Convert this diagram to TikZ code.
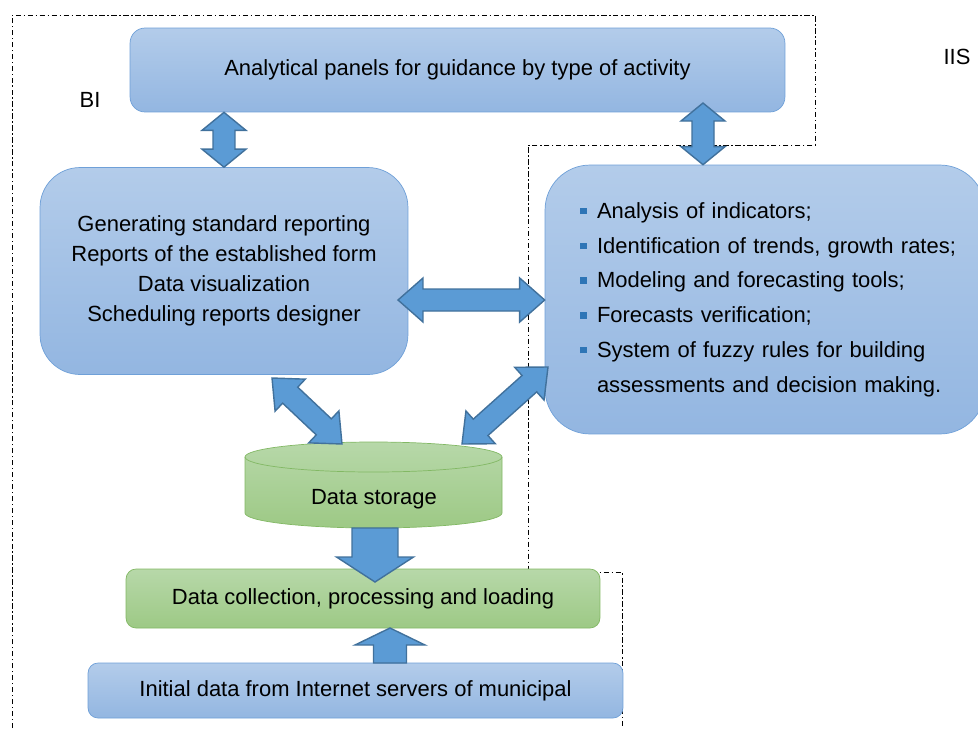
\documentclass[tikz,border=0pt]{standalone}
\usepackage{fontspec}
\setmainfont{Liberation Sans}
\usetikzlibrary{calc,positioning}

\definecolor{bluetop}{HTML}{B3CCEA}
\definecolor{bluebot}{HTML}{93B6E1}
\definecolor{blueline}{HTML}{6FA0D8}
\definecolor{greentop}{HTML}{B7D8A9}
\definecolor{greenbot}{HTML}{9DC985}
\definecolor{greenline}{HTML}{82B864}
\definecolor{arrowfill}{HTML}{5B9BD5}
\definecolor{arrowline}{HTML}{41719C}
\definecolor{bulletblue}{HTML}{2E75B6}

\newcommand{\bul}{\makebox[0.59cm][l]{\hspace{0.25cm}\textcolor{bulletblue}{\rule[0.08cm]{0.13cm}{0.13cm}}}}

% block arrows: tail/tip, half widths and head length
\newcommand{\dblarrow}[3][0.4cm]{%
  \path ($(#2)!#1!(#3)$) coordinate (p) ($(#3)!#1!(#2)$) coordinate (q);
  \filldraw[blockarrow] (#2) -- ($(p)!0.44cm!90:(#3)$) -- ($(p)!0.22cm!90:(#3)$)
    -- ($(q)!0.22cm!-90:(#2)$) -- ($(q)!0.44cm!-90:(#2)$) -- (#3)
    -- ($(q)!0.44cm!90:(#2)$) -- ($(q)!0.22cm!90:(#2)$)
    -- ($(p)!0.22cm!-90:(#3)$) -- ($(p)!0.44cm!-90:(#3)$) -- cycle;}
\newcommand{\sglarrow}[5]{%
  \path ($(#2)!#5!(#1)$) coordinate (q);
  \filldraw[blockarrow] ($(#1)!#3!90:(#2)$) -- ($(q)!#3!-90:(#1)$) -- ($(q)!#4!-90:(#1)$)
    -- (#2) -- ($(q)!#4!90:(#1)$) -- ($(q)!#3!90:(#1)$) -- ($(#1)!#3!-90:(#2)$) -- cycle;}

\begin{document}
\begin{tikzpicture}[x=0.02cm,y=-0.02cm,
  font=\fontsize{12.5}{15}\selectfont,
  bluebox/.style={draw=blueline,top color=bluetop,bottom color=bluebot,align=center},
  greenbox/.style={draw=greenline,top color=greentop,bottom color=greenbot,align=center},
  blockarrow/.style={fill=arrowfill,draw=arrowline,line width=0.8pt,line join=miter},
  zone/.style={line width=0.5pt,dash pattern=on 3pt off 1.5pt on 0.8pt off 1.5pt}]
\clip (0,0) rectangle (978,728);

% zone borders
\draw[zone] (12,728) -- (12,15) -- (815,15) -- (815,145) -- (528,145) -- (528,575);
\draw[zone] (520,572) -- (622,572) -- (622,728);
\node (bilabel) at (90,100) {BI};
\node (iislabel) at (957,57) {IIS};

% boxes
\node[bluebox,rounded corners=0.3cm,minimum width=13.1cm,minimum height=1.68cm] (top) at (457.5,70)
  {Analytical panels for guidance by type of activity};
\node[bluebox,rounded corners=0.8cm,minimum width=7.36cm,minimum height=4.14cm,
  font=\fontsize{12.5}{17}\selectfont] (bi) at (224,271)
  {Generating standard reporting\\Reports of the established form\\Data visualization\\Scheduling reports designer};
\node[bluebox,rounded corners=0.9cm,minimum width=8.8cm,minimum height=5.38cm,align=left,
  text width=7.9cm,font=\fontsize{12.5}{19.8}\selectfont] (iis) at (765,299.5)
  {\bul Analysis of indicators;\\
   \bul Identification of trends, growth rates;\\
   \bul Modeling and forecasting tools;\\
   \bul Forecasts verification;\\
   \bul System of fuzzy rules for building\\
   \hspace*{0.59cm}assessments and decision making.};

% data storage cylinder
\draw[draw=greenline,top color=greentop,bottom color=greenbot] (245,457) -- (245,513)
  arc[start angle=180,end angle=0,x radius=128.5,y radius=15] -- (502,457)
  arc[start angle=0,end angle=-180,x radius=128.5,y radius=15] -- cycle;
\draw[greenline] (245,457) arc[start angle=180,end angle=0,x radius=128.5,y radius=15];
\node (store) at (374,499) {Data storage};

\node[greenbox,rounded corners=0.2cm,minimum width=9.48cm,minimum height=1.18cm] (load) at (363,598.5)
  {Data collection, processing and loading};
\node[bluebox,rounded corners=0.2cm,minimum width=10.7cm,minimum height=1.1cm] (src) at (355.5,690.5)
  {Initial data from Internet servers of municipal};

% connectors
\coordinate (a1) at (top.south -| bi.north);
\coordinate (a2) at (703,103);
\coordinate (b1) at (398,300);
\coordinate (c1) at (272,378);
\coordinate (c2) at (342,444);
\coordinate (d1) at (462,444);
\coordinate (d2) at (548,367);
\coordinate (e1) at (375,528);
\coordinate (e2) at (375,582);
\coordinate (f1) at (390,663);
\coordinate (f2) at (390,628);
\dblarrow[0.36cm]{a1}{bi.north}
\dblarrow[0.36cm]{a2}{a2 |- iis.north}
\dblarrow[0.5cm]{b1}{b1 -| iis.west}
\dblarrow[0.5cm]{c1}{c2}
\dblarrow[0.5cm]{d1}{d2}
\sglarrow{e1}{e2}{0.46cm}{0.77cm}{0.5cm}
\sglarrow{f1}{f2}{0.33cm}{0.7cm}{0.34cm}
\end{tikzpicture}
\end{document}
